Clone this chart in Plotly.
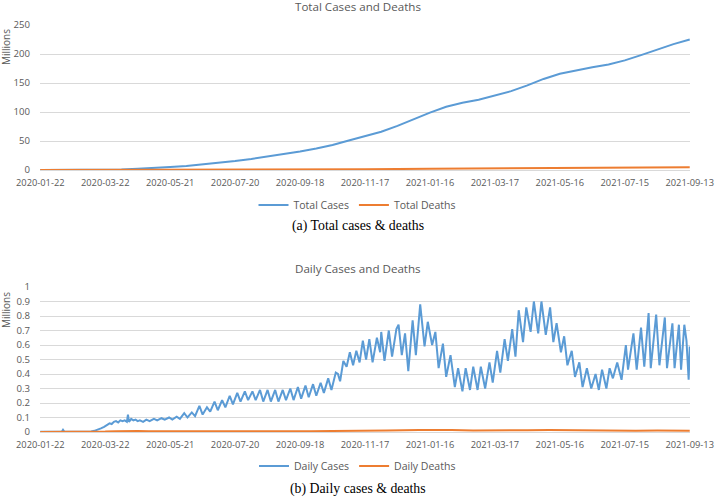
import pandas as pd
import plotly.graph_objects as go

START = "2020-01-22"
tick_labels = ["2020-01-22", "2020-03-22", "2020-05-21", "2020-07-20", "2020-09-18",
               "2020-11-17", "2021-01-16", "2021-03-17", "2021-05-16", "2021-07-15", "2021-09-13"]

# Total cases / deaths (millions), day offset from 2020-01-22
total_day = [0, 30, 60, 75, 90, 105, 120, 135, 150, 165, 180, 195, 210, 225, 240, 255, 270, 285,
             300, 315, 330, 345, 360, 375, 390, 405, 420, 435, 450, 465, 480, 495, 510, 525, 540,
             555, 570, 585, 600]
total_cases = [0.0006, 0.08, 0.34, 1.0, 2.0, 3.2, 5.0, 7.0, 9.5, 12.5, 15.5, 19, 23, 27.5, 32, 37,
               43, 51, 58, 66, 76, 88, 99, 109, 116, 121, 128, 136, 146, 157, 166, 172, 177, 182,
               189, 198, 208, 217, 225]
death_day = [0, 60, 120, 180, 240, 300, 360, 420, 480, 540, 600]
total_deaths = [0.0, 0.015, 0.33, 0.6, 0.95, 1.33, 2.03, 2.68, 3.37, 4.06, 4.64]

# Daily cases (millions)
daily_day = [0, 10, 20, 21, 22, 30, 40, 47, 50, 53, 56, 59, 62, 64, 66, 68, 70, 72, 74, 76, 78, 80,
             81, 82, 84, 86, 88, 90, 92, 95, 98, 101, 105, 108, 112, 115, 119, 122, 126, 129, 133,
             136, 140, 143, 147, 150, 154, 157, 161, 164, 168, 171, 175, 178, 182, 185, 189, 192,
             196, 199, 203, 206, 210, 213, 217, 220, 224, 227, 231, 234, 238, 241, 245, 248, 252,
             255, 259, 262, 266, 269, 273, 275, 277, 280, 283, 286, 289, 292, 295, 298, 301, 304,
             307, 311, 314, 315, 318, 322, 325, 329, 331, 334, 337, 340, 344, 347, 351, 355, 358,
             362, 365, 368, 372, 375, 379, 383, 386, 390, 393, 397, 400, 404, 407, 411, 415, 418,
             422, 425, 429, 432, 436, 439, 442, 446, 449, 453, 456, 460, 463, 467, 471, 474, 477,
             481, 484, 487, 491, 494, 498, 501, 505, 509, 513, 516, 519, 523, 526, 529, 533, 537,
             541, 543, 548, 551, 555, 558, 562, 564, 569, 572, 577, 579, 584, 586, 590, 592, 595,
             597, 599, 600]
daily_cases = [0.001, 0.002, 0.003, 0.015, 0.004, 0.002, 0.002, 0.004, 0.008, 0.015, 0.025, 0.035,
               0.05, 0.06, 0.055, 0.07, 0.075, 0.065, 0.08, 0.075, 0.08, 0.07, 0.12, 0.07, 0.09,
               0.08, 0.085, 0.075, 0.08, 0.07, 0.085, 0.075, 0.09, 0.08, 0.095, 0.085, 0.1, 0.085,
               0.105, 0.09, 0.13, 0.1, 0.135, 0.11, 0.18, 0.12, 0.17, 0.14, 0.21, 0.15, 0.22, 0.17,
               0.25, 0.19, 0.27, 0.21, 0.28, 0.22, 0.28, 0.22, 0.29, 0.21, 0.29, 0.21, 0.29, 0.21,
               0.29, 0.22, 0.30, 0.22, 0.31, 0.23, 0.32, 0.24, 0.33, 0.25, 0.34, 0.27, 0.37, 0.29,
               0.41, 0.40, 0.35, 0.49, 0.45, 0.55, 0.46, 0.56, 0.48, 0.63, 0.50, 0.64, 0.48, 0.65,
               0.55, 0.69, 0.49, 0.70, 0.52, 0.71, 0.74, 0.53, 0.68, 0.42, 0.77, 0.53, 0.88, 0.59,
               0.76, 0.60, 0.69, 0.44, 0.61, 0.38, 0.53, 0.31, 0.44, 0.28, 0.44, 0.29, 0.45, 0.29,
               0.45, 0.30, 0.48, 0.34, 0.56, 0.41, 0.64, 0.49, 0.71, 0.52, 0.84, 0.62, 0.86, 0.69,
               0.90, 0.68, 0.90, 0.67, 0.86, 0.62, 0.75, 0.55, 0.66, 0.46, 0.56, 0.38, 0.48, 0.31,
               0.44, 0.30, 0.40, 0.29, 0.43, 0.30, 0.44, 0.37, 0.48, 0.36, 0.60, 0.43, 0.68, 0.43,
               0.72, 0.45, 0.82, 0.44, 0.81, 0.46, 0.79, 0.44, 0.75, 0.44, 0.74, 0.43, 0.74, 0.63,
               0.36, 0.59]
ddeath_day = [0, 45, 60, 70, 80, 90, 100, 130, 160, 190, 220, 250, 270, 290, 320, 350, 365, 380,
              400, 420, 450, 470, 490, 510, 530, 550, 570, 590, 600]
daily_deaths = [0, 0.0005, 0.003, 0.006, 0.008, 0.007, 0.006, 0.005, 0.005, 0.006, 0.006, 0.006,
                0.007, 0.010, 0.011, 0.013, 0.015, 0.013, 0.010, 0.009, 0.012, 0.014, 0.012, 0.009,
                0.008, 0.009, 0.010, 0.010, 0.009]

start = pd.Timestamp(START)
to_dates = lambda days: [start + pd.Timedelta(days=d) for d in days]
tick_dates = [pd.Timestamp(t) for t in tick_labels]

BLUE = "#5B9BD5"
ORANGE = "#ED7D31"
GRID = "#D9D9D9"
TXT = "#595959"
FONT = "Open Sans"
W, H = 715, 498

fig = go.Figure()
fig.add_trace(go.Scatter(x=to_dates(total_day), y=total_cases, name="Total Cases", mode="lines",
                         line=dict(color=BLUE, width=2), xaxis="x", yaxis="y", legend="legend"))
fig.add_trace(go.Scatter(x=to_dates(death_day), y=total_deaths, name="Total Deaths", mode="lines",
                         line=dict(color=ORANGE, width=2), xaxis="x", yaxis="y", legend="legend"))
fig.add_trace(go.Scatter(x=to_dates(daily_day), y=daily_cases, name="Daily Cases", mode="lines",
                         line=dict(color=BLUE, width=2), xaxis="x2", yaxis="y2", legend="legend2"))
fig.add_trace(go.Scatter(x=to_dates(ddeath_day), y=daily_deaths, name="Daily Deaths", mode="lines",
                         line=dict(color=ORANGE, width=2), xaxis="x2", yaxis="y2", legend="legend2"))

xcommon = dict(range=[start - pd.Timedelta(hours=6), start + pd.Timedelta(days=600, hours=6)],
               tickvals=tick_dates, ticktext=tick_labels, automargin=False,
               showgrid=False, showline=True, linecolor=GRID, linewidth=1, ticks="",
               ticklabelstandoff=4,
               tickfont=dict(family=FONT, size=9.3, color=TXT), zeroline=False)
ycommon = dict(showgrid=True, gridcolor=GRID, gridwidth=1, zeroline=False, showline=False, ticks="",
               automargin=False, tickfont=dict(family=FONT, size=9.6, color=TXT), ticklabelstandoff=9)

xd = [40 / W, 690 / W]
fig.update_layout(
    width=W, height=H,
    margin=dict(l=0, r=0, t=0, b=0, autoexpand=False),
    paper_bgcolor="white", plot_bgcolor="white",
    showlegend=True,
    xaxis=dict(domain=xd, anchor="y", **xcommon),
    yaxis=dict(domain=[(H - 170) / H, (H - 25) / H], range=[0, 250], dtick=50, anchor="x", **ycommon),
    xaxis2=dict(domain=xd, anchor="y2", **xcommon),
    yaxis2=dict(domain=[(H - 432) / H, (H - 287) / H], range=[0, 1], dtick=0.1, anchor="x2",
                tickformat="~g", **ycommon),
    legend=dict(orientation="h", x=0.5, xanchor="center", y=(H - 205) / H, yanchor="middle",
                font=dict(family=FONT, size=10.5, color=TXT), itemwidth=30, bgcolor="rgba(0,0,0,0)"),
    legend2=dict(orientation="h", x=0.5, xanchor="center", y=(H - 466) / H, yanchor="middle",
                 font=dict(family=FONT, size=10.5, color=TXT), itemwidth=30, bgcolor="rgba(0,0,0,0)"),
    annotations=[
        dict(text="Total Cases and Deaths", x=0.5, y=(H - 7) / H, xref="paper", yref="paper",
             showarrow=False, font=dict(family=FONT, size=11.6, color=TXT), yanchor="middle"),
        dict(text="Daily Cases and Deaths", x=0.5, y=(H - 268) / H, xref="paper", yref="paper",
             showarrow=False, font=dict(family=FONT, size=11.6, color=TXT), yanchor="middle"),
        dict(text="Millions", textangle=-90, x=6 / W, y=(H - 47) / H, xref="paper", yref="paper",
             showarrow=False, font=dict(family=FONT, size=10, color=TXT), xanchor="center", yanchor="middle"),
        dict(text="Millions", textangle=-90, x=6 / W, y=(H - 310) / H, xref="paper", yref="paper",
             showarrow=False, font=dict(family=FONT, size=10, color=TXT), xanchor="center", yanchor="middle"),
        dict(text="(a) Total cases &amp; deaths", x=0.5, y=(H - 226) / H, xref="paper", yref="paper",
             showarrow=False, font=dict(family="Liberation Serif", size=13.8, color="black"), yanchor="middle"),
        dict(text="(b) Daily cases &amp; deaths", x=0.5, y=(H - 489) / H, xref="paper", yref="paper",
             showarrow=False, font=dict(family="Liberation Serif", size=13.8, color="black"), yanchor="middle"),
    ],
)

fig.write_html("out.html", config={"displayModeBar": False},
               post_script="document.body.style.margin='0';document.body.style.overflow='hidden';")
